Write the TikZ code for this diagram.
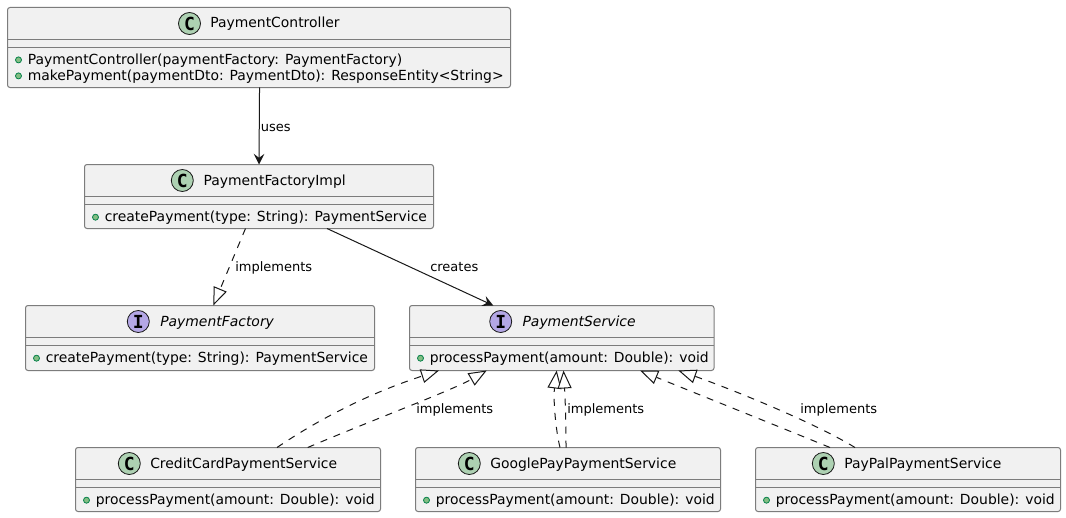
\documentclass[tikz,border=0pt]{standalone}
\usepackage{fontspec}
\setmainfont{DejaVu Sans}
\setmonofont{DejaVu Sans Mono}
\usetikzlibrary{arrows.meta,calc}
\definecolor{boxfill}{HTML}{F1F1F1}
\definecolor{boxline}{HTML}{7C7C7C}
\definecolor{ink}{HTML}{181818}
\definecolor{classc}{HTML}{ADD1B2}
\definecolor{ifacec}{HTML}{B4A7E5}
\definecolor{dotfill}{HTML}{84BE84}
\definecolor{dotline}{HTML}{038048}
\tikzset{
  umlbox/.style={draw=boxline,fill=boxfill,line width=.75pt,rounded corners=1.9pt,anchor=north west,inner sep=0pt,outer sep=0pt},
  sepline/.style={draw=boxline,line width=.75pt},
  badge/.style={circle,draw=ink,line width=.6pt,minimum size=16.5pt,inner sep=0pt,font=\ttfamily\bfseries\fontsize{13.5pt}{13.5pt}\selectfont,text=black},
  classbadge/.style={badge,fill=classc},
  ifacebadge/.style={badge,fill=ifacec},
  titletext/.style={anchor=base west,inner sep=0pt,font=\fontsize{10.44pt}{12pt}\selectfont,text=black},
  methodtext/.style={anchor=base west,inner sep=0pt,font=\fontsize{10.44pt}{12pt}\selectfont,text=black},
  methoddot/.style={circle,draw=dotline,fill=dotfill,line width=.6pt,minimum size=4.5pt,inner sep=0pt},
  edgelabel/.style={anchor=base west,inner sep=0pt,font=\fontsize{9.75pt}{12pt}\selectfont,text=black},
  solidedge/.style={draw=ink,line width=.75pt,-{Stealth[length=8pt,width=8pt,inset=3pt]}},
  realize/.style={draw=ink,line width=.75pt,dash pattern=on 5.25pt off 5.25pt,-{Triangle[open,length=13.5pt,width=10.5pt,fill=white]}}
}
\newcommand{\umlnode}[5]{%
  \node[umlbox,minimum width=#4*0.75pt,minimum height=#5*0.75pt] (#1) at (#2,#3) {};
  \draw[sepline] ([shift={(0,32)}]#1.north west) -- ([shift={(0,32)}]#1.north east);
  \draw[sepline] ([shift={(0,40)}]#1.north west) -- ([shift={(0,40)}]#1.north east);
}
\newcommand{\umlhead}[6]{%
  \node[#3] (#1-badge) at ([shift={(#2,16)}]#1.north west) {#4};
  \node[titletext] (#1-title) at ([shift={(#5,20.5)}]#1.north west) {#6};
}
\newcommand{\umlmethod}[4]{%
  \node[methoddot] (#1-dot#2) at ([shift={(11,#3-4.3)}]#1.north west) {};
  \node[methodtext] (#1-m#2) at ([shift={(20,#3)}]#1.north west) {#4};
}
\begin{document}
\begin{tikzpicture}[x=0.75pt,y=-0.75pt]
\useasboundingbox (0,0) rectangle (1066,517);
\fill[white] (0,0) rectangle (1066,517);

\umlnode{pc}{7.5}{7.5}{503}{80}
\umlhead{pc}{182}{classbadge}{C}{202.5}{PaymentController}
\umlmethod{pc}{1}{56.7}{PaymentController(paymentFactory: PaymentFactory)}
\umlmethod{pc}{2}{72.7}{makePayment(paymentDto: PaymentDto): ResponseEntity<String>}

\umlnode{pfi}{84.5}{164.5}{349}{64}
\umlhead{pfi}{97.8}{classbadge}{C}{118.8}{PaymentFactoryImpl}
\umlmethod{pfi}{1}{57}{createPayment(type: String): PaymentService}

\umlnode{pf}{25.5}{305.5}{349}{65}
\umlhead{pf}{112.8}{ifacebadge}{I}{134.5}{\itshape PaymentFactory}
\umlmethod{pf}{1}{57}{createPayment(type: String): PaymentService}

\umlnode{ps}{409.5}{305.5}{304.5}{65}
\umlhead{ps}{91.2}{ifacebadge}{I}{112.8}{\itshape PaymentService}
\umlmethod{ps}{1}{57}{processPayment(amount: Double): void}

\umlnode{cc}{75.5}{447.5}{305}{64}
\umlhead{cc}{53.8}{classbadge}{C}{74.5}{CreditCardPaymentService}
\umlmethod{cc}{1}{57}{processPayment(amount: Double): void}

\umlnode{gp}{415.5}{447.5}{305}{64}
\umlhead{gp}{53.8}{classbadge}{C}{74.5}{GooglePayPaymentService}
\umlmethod{gp}{1}{57}{processPayment(amount: Double): void}

\umlnode{pp}{755.5}{447.5}{305}{64}
\umlhead{pp}{67.8}{classbadge}{C}{88.5}{PayPalPaymentService}
\umlmethod{pp}{1}{57}{processPayment(amount: Double): void}

% connectors
\draw[solidedge] ([xshift=0.4pt]pc.south) -- (pfi.north);
\draw[realize] ([shift={(-13.5,0)}]pfi.south) -- ([shift={(187.8,0)}]pf.north west);
\draw[solidedge] ([shift={(68,0)}]pfi.south) -- ([shift={(-68.5,0)}]ps.north);

\draw[realize] ([shift={(201.5,0)}]cc.north west) .. controls (340,405) and (395,385) .. ([shift={(29.5,0)}]ps.south west);
\draw[realize] ([shift={(232.2,0)}]cc.north west) .. controls (370,421) and (452.7,390) .. ([shift={(77.2,0)}]ps.south west);
\draw[realize] ([shift={(144.5,0)}]gp.north west) .. controls (556,432) and (553,400) .. ([shift={(147.2,0)}]ps.south west);
\draw[realize] ([shift={(150.5,0)}]gp.north west) .. controls (566,420) and (565,395) .. ([shift={(154,0)}]ps.south west);
\draw[realize] ([shift={(74.5,0)}]pp.north west) .. controls (770,423) and (680,387) .. ([shift={(230.5,0)}]ps.south west);
\draw[realize] ([shift={(99.5,0)}]pp.north west) .. controls (810,420) and (720,385) .. ([shift={(268.8,0)}]ps.south west);

% labels
\node[edgelabel] (l-uses) at (260.5,131) {uses};
\node[edgelabel] (l-impl1) at (235,271.5) {implements};
\node[edgelabel] (l-creates) at (430,271.5) {creates};
\node[edgelabel] (l-impl2) at (416,413) {implements};
\node[edgelabel] (l-impl3) at (567,413) {implements};
\node[edgelabel] (l-impl4) at (800,413) {implements};
\end{tikzpicture}
\end{document}
